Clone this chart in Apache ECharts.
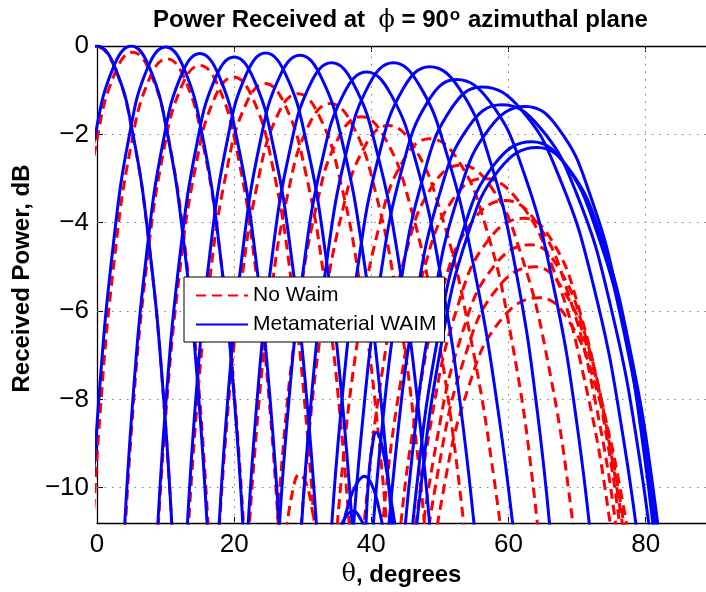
<!DOCTYPE html>
<html>
<head>
<meta charset="utf-8">
<script src="https://cdn.jsdelivr.net/npm/echarts/dist/echarts.min.js"></script>
<style>
  html, body { margin: 0; padding: 0; background: #fff; }
  #chart { width: 706px; height: 592px; }
</style>
</head>
<body>
<div id="chart"></div>
<script>
// Axis ticks
const thetaTicks = [0, 20, 40, 60, 80];
const levelTicks = [0, -2, -4, -6, -8, -10];

// Metamaterial WAIM beams: [theta (deg), received power (dB)]
const waimBeam00 = [[-2.66,-0.5],[0,0],[2.66,-0.5],[5.24,-2],[7.61,-4.5],[9.73,-8],[11.3,-12]];
const waimBeam01 = [[-2.6,-4.5],[-0.23,-2],[2.34,-0.5],[5,0],[7.68,-0.5],[10.28,-2],[12.69,-4.5],[14.85,-8],[16.45,-12]];
const waimBeam02 = [[-1.28,-12.02],[0.26,-8.02],[2.36,-4.52],[4.72,-2.02],[7.31,-0.52],[10,-0.02],[12.71,-0.52],[15.36,-2.02],[17.82,-4.52],[20.04,-8.02],[21.69,-12.02]];
const waimBeam03 = [[3.6,-12.17],[5.15,-8.17],[7.26,-4.67],[9.64,-2.17],[12.26,-0.67],[15,-0.17],[17.77,-0.67],[20.49,-2.17],[23.04,-4.67],[25.33,-8.17],[27.05,-12.17]];
const waimBeam04 = [[8.39,-12.25],[9.96,-8.25],[12.09,-4.75],[14.52,-2.25],[17.19,-0.75],[20,-0.25],[22.85,-0.75],[25.68,-2.25],[28.33,-4.75],[30.73,-8.25],[32.55,-12.25]];
const waimBeam05 = [[12.73,-12.16],[14.32,-8.16],[16.49,-4.66],[18.97,-2.16],[21.71,-0.66],[24.6,-0.16],[27.56,-0.66],[30.5,-2.16],[33.28,-4.66],[35.83,-8.16],[37.76,-12.16]];
const waimBeam06 = [[17.33,-12.21],[18.96,-8.21],[21.19,-4.71],[23.74,-2.21],[26.58,-0.71],[29.6,-0.21],[32.7,-0.71],[35.82,-2.21],[38.79,-4.71],[41.52,-8.21],[43.63,-12.21]];
const waimBeam07 = [[21.48,-12.38],[23.15,-8.38],[25.44,-4.88],[28.09,-2.38],[31.05,-0.88],[34.2,-0.38],[37.48,-0.88],[40.8,-2.38],[44,-4.88],[46.98,-8.38],[49.29,-12.38]];
const waimBeam08 = [[25.94,-12.59],[27.67,-8.59],[30.06,-5.09],[32.83,-2.59],[35.95,-1.09],[39.3,-0.59],[42.83,-1.09],[46.45,-2.59],[49.99,-5.09],[53.36,-8.59],[56.04,-12.59]];
const waimBeam09 = [[29.24,-12.38],[31.03,-8.38],[33.5,-4.88],[36.39,-2.38],[39.65,-0.88],[43.2,-0.38],[46.97,-0.88],[50.88,-2.38],[54.79,-4.88],[58.6,-8.38],[61.7,-12.38]];
const waimBeam10 = [[33.57,-12.47],[35.45,-8.47],[38.06,-4.97],[41.12,-2.47],[44.64,-0.97],[48.5,-0.47],[52.86,-0.97],[57.07,-2.47],[60.94,-4.97],[64.36,-8.47],[66.9,-12.47]];
const waimBeam11 = [[36.61,-12.76],[38.56,-8.76],[41.29,-5.26],[44.51,-2.76],[48.24,-1.26],[52.4,-0.76],[57.28,-1.26],[62,-2.76],[66.33,-5.26],[70.16,-8.76],[73,-12.76]];
const waimBeam12 = [[39.35,-12.93],[41.38,-8.93],[44.23,-5.43],[47.62,-2.93],[51.6,-1.43],[56.1,-0.93],[61.8,-1.43],[67.3,-2.93],[72.4,-5.43],[76.8,-8.93],[80.2,-12.93]];
const waimBeam13 = [[41.39,-13.33],[43.48,-9.33],[46.45,-5.83],[49.99,-3.33],[54.18,-1.83],[59,-1.33],[64.5,-1.83],[69.9,-3.33],[74.8,-5.83],[79.1,-9.33],[82.3,-13.33]];
const waimBeam14 = [[43.71,-13.37],[45.89,-9.37],[48.98,-5.87],[52.72,-3.37],[57.2,-1.87],[62.5,-1.37],[67.3,-1.87],[71.9,-3.37],[76.2,-5.87],[79.9,-9.37],[82.7,-13.37]];
const waimBeam15 = [[44.28,-14.17],[46.48,-10.17],[49.61,-6.67],[53.4,-4.17],[57.99,-2.67],[63.4,-2.17],[68.2,-2.67],[72.8,-4.17],[77.1,-6.67],[80.85,-10.17],[83.65,-14.17]];
const waimBeam16 = [[44.77,-14.3],[47,-10.3],[50.16,-6.8],[54,-4.3],[58.64,-2.8],[64.2,-2.3],[68.9,-2.8],[73.46,-4.3],[77.63,-6.8],[81.33,-10.3],[84.07,-14.3]];
// WAIM side lobes near 40 degrees
const waimLobeA = [[39.2,-10.9],[39.7,-9.6],[40.2,-9.0],[40.7,-8.75],[41.4,-8.95],[42.2,-9.6],[43.0,-10.4],[43.8,-11.2]];
const waimLobeB = [[35.8,-10.9],[36.8,-10.3],[37.9,-9.9],[39,-9.74],[40.1,-9.95],[41,-10.4],[41.8,-11]];
const waimLobeC = [[35.3,-11],[36.3,-10.65],[37.4,-10.53],[38.4,-10.7],[39.3,-11]];

// Beams without WAIM
const noWaim00 = [[-2.66,-0.52],[0,-0.02],[2.66,-0.52],[5.24,-2.02],[7.61,-4.52],[9.73,-8.02],[11.3,-12.02]];
const noWaim01 = [[-2.4,-4.64],[-0.03,-2.14],[2.54,-0.64],[5.2,-0.14],[7.88,-0.64],[10.48,-2.14],[12.89,-4.64],[15.05,-8.14],[16.65,-12.14]];
const noWaim02 = [[-1.08,-12.29],[0.46,-8.29],[2.56,-4.79],[4.92,-2.29],[7.51,-0.79],[10.2,-0.29],[12.91,-0.79],[15.56,-2.29],[18.02,-4.79],[20.24,-8.29],[21.89,-12.29]];
const noWaim03 = [[3.6,-12.44],[5.15,-8.44],[7.26,-4.94],[9.64,-2.44],[12.26,-0.94],[15,-0.44],[17.77,-0.94],[20.49,-2.44],[23.04,-4.94],[25.33,-8.44],[27.05,-12.44]];
const noWaim04 = [[8.29,-12.7],[9.86,-8.7],[11.99,-5.2],[14.42,-2.7],[17.09,-1.2],[19.9,-0.7],[22.75,-1.2],[25.58,-2.7],[28.23,-5.2],[30.63,-8.7],[32.45,-12.7]];
const noWaim05 = [[12.63,-12.85],[14.22,-8.85],[16.39,-5.35],[18.87,-2.85],[21.61,-1.35],[24.5,-0.85],[27.46,-1.35],[30.4,-2.85],[33.18,-5.35],[35.73,-8.85],[37.66,-12.85]];
const noWaim06 = [[17.03,-13.08],[18.66,-9.08],[20.89,-5.58],[23.44,-3.08],[26.28,-1.58],[29.3,-1.08],[32.4,-1.58],[35.52,-3.08],[38.49,-5.58],[41.22,-9.08],[43.33,-13.08]];
const noWaim07 = [[21.28,-13.3],[22.95,-9.3],[25.24,-5.8],[27.89,-3.3],[30.85,-1.8],[34,-1.3],[37.28,-1.8],[40.6,-3.3],[43.8,-5.8],[46.78,-9.3],[49.09,-13.3]];
const noWaim08 = [[25.14,-13.6],[26.87,-9.6],[29.26,-6.1],[32.03,-3.6],[35.15,-2.1],[38.5,-1.6],[42.03,-2.1],[45.65,-3.6],[49.19,-6.1],[52.56,-9.6],[55.24,-13.6]];
const noWaim09 = [[28.54,-13.8],[30.33,-9.8],[32.8,-6.3],[35.69,-3.8],[38.95,-2.3],[42.5,-1.8],[46.27,-2.3],[50.18,-3.8],[54.09,-6.3],[57.9,-9.8],[61,-13.8]];
const noWaim10 = [[33.57,-14.1],[35.45,-10.1],[38.06,-6.6],[41.12,-4.1],[44.64,-2.6],[48.5,-2.1],[52.7,-2.6],[56.7,-4.1],[60.4,-6.6],[63.7,-10.1],[66.1,-14.1]];
const noWaim11 = [[37.06,-14.7],[39.02,-10.7],[41.77,-7.2],[45.02,-4.7],[48.78,-3.2],[53,-2.7],[57.5,-3.2],[61.8,-4.7],[65.8,-7.2],[69.3,-10.7],[72,-14.7]];
const noWaim12 = [[39.49,-15],[41.53,-11],[44.38,-7.5],[47.79,-5],[51.78,-3.5],[56.3,-3],[61.4,-3.5],[66.4,-5],[71,-7.5],[75,-11],[78,-15]];
const noWaim13 = [[41.73,-15.5],[43.84,-11.5],[46.81,-8],[50.38,-5.5],[54.61,-4],[59.5,-3.5],[64.1,-4],[68.5,-5.5],[72.6,-8],[76.2,-11.5],[78.9,-15.5]];
const noWaim14 = [[43.58,-15.9],[45.76,-11.9],[48.84,-8.4],[52.57,-5.9],[57.03,-4.4],[62.3,-3.9],[66.3,-4.4],[70.2,-5.9],[73.8,-8.4],[77,-11.9],[79.3,-15.9]];
const noWaim15 = [[44.15,-16.5],[46.35,-12.5],[49.47,-9],[53.26,-6.5],[57.8,-5],[63.2,-4.5],[67.2,-5],[71.1,-6.5],[74.7,-9],[77.9,-12.5],[80.2,-16.5]];
const noWaim16 = [[44.53,-17],[46.74,-13],[49.88,-9.5],[53.71,-7],[58.3,-5.5],[63.8,-5],[67.9,-5.5],[71.8,-7],[75.4,-9.5],[78.6,-13],[81,-17]];
const noWaim17 = [[44.96,-17.7],[47.19,-13.7],[50.36,-10.2],[54.22,-7.7],[58.9,-6.2],[64.5,-5.7],[68.7,-6.2],[72.7,-7.7],[76.5,-10.2],[79.8,-13.7],[82.2,-17.7]];
const noWaimLobe = [[27.6,-11],[28.5,-10.1],[29.5,-9.7],[30.5,-9.9],[31.5,-10.6],[32.2,-11.2]];

const waimCurves = [waimBeam00, waimBeam01, waimBeam02, waimBeam03, waimBeam04, waimBeam05, waimBeam06,
  waimBeam07, waimBeam08, waimBeam09, waimBeam10, waimBeam11, waimBeam12, waimBeam13, waimBeam14,
  waimBeam15, waimBeam16, waimLobeA, waimLobeB, waimLobeC];
const noWaimCurves = [noWaim00, noWaim01, noWaim02, noWaim03, noWaim04, noWaim05, noWaim06, noWaim07,
  noWaim08, noWaim09, noWaim10, noWaim11, noWaim12, noWaim13, noWaim14, noWaim15, noWaim16, noWaim17, noWaimLobe];

const NAME_NO = 'No Waim';
const NAME_META = 'Metamaterial WAIM';
const RED = '#ff0000';
const BLUE = '#0000ff';
const FONT = '"Liberation Sans", Arial, Helvetica, sans-serif';
const SYMBOL_FONT = '"DejaVu Serif", serif';
const minus = v => (v < 0 ? '\u2212' + Math.abs(v) : String(v));

function curve(name, data, color, dashed) {
  return {
    type: 'line', name, data,
    symbol: 'none', showSymbol: false, smooth: 0.45,
    clip: true, silent: true, animation: false,
    lineStyle: { color, width: 3, type: dashed ? [10, 6] : 'solid', cap: 'butt', join: 'round' },
    itemStyle: { color },
    z: dashed ? 3 : 4
  };
}

// dotted grid lines at the major ticks
const gridLines = {
  type: 'line', name: 'grid', data: [], silent: true, animation: false,
  symbol: 'none', z: 1,
  markLine: {
    silent: true, symbol: 'none', animation: false, z: 1,
    label: { show: false },
    lineStyle: { type: [1.5, 6], color: '#808080', width: 1 },
    data: levelTicks.filter(v => v !== 0).map(v => ({ yAxis: v }))
      .concat(thetaTicks.filter(v => v !== 0).map(v => ({ xAxis: v })))
  }
};

const series = [gridLines]
  .concat(noWaimCurves.map(d => curve(NAME_NO, d, RED, true)))
  .concat(waimCurves.map(d => curve(NAME_META, d, BLUE, false)));

const chart = echarts.init(document.getElementById('chart'), null, { renderer: 'canvas' });
chart.setOption({
  animation: false,
  backgroundColor: '#ffffff',
  title: {
    text: 'Power Received at  {phi|\u03d5} = 90{sup|o} azimuthal plane',
    left: 148, top: 2,
    textStyle: {
      fontFamily: FONT, fontSize: 24, fontWeight: 'bold', color: '#000',
      rich: {
        phi: { fontFamily: SYMBOL_FONT, fontSize: 24, fontWeight: 'normal', color: '#000' },
        sup: { fontFamily: FONT, fontSize: 17, fontWeight: 'bold', color: '#000', verticalAlign: 'top', padding: [0, 1, 10, 1] }
      }
    }
  },
  legend: {
    data: [NAME_NO, NAME_META],
    orient: 'vertical',
    left: 184, top: 277,
    padding: [8, 8, 7, 11],
    itemGap: 8,
    itemWidth: 52, itemHeight: 14,
    backgroundColor: '#ffffff',
    borderColor: '#000000', borderWidth: 1, borderRadius: 0,
    selectedMode: false,
    itemStyle: { opacity: 0, borderWidth: 0 },
    textStyle: { fontFamily: FONT, fontSize: 21, color: '#000' },
    z: 20
  },
  grid: { left: 97, top: 46, right: 0, bottom: 69, containLabel: false },
  xAxis: [{
    type: 'value', min: 0, max: 88.8, interval: 20,
    position: 'bottom',
    name: '{t|\u03b8}, degrees',
    nameLocation: 'middle', nameGap: 38,
    nameTextStyle: {
      fontFamily: FONT, fontSize: 24, fontWeight: 'bold', color: '#000',
      rich: { t: { fontFamily: SYMBOL_FONT, fontSize: 24, fontWeight: 'normal', color: '#000' } }
    },
    axisLine: { show: true, onZero: false, lineStyle: { color: '#000', width: 1.3 } },
    axisTick: { show: true, inside: true, length: 6, lineStyle: { color: '#000' } },
    axisLabel: { show: true, fontFamily: FONT, fontSize: 26, color: '#000', margin: 9, showMaxLabel: false, showMinLabel: true },
    splitLine: { show: false }
  }, {
    type: 'value', min: 0, max: 88.8, interval: 20,
    position: 'top',
    axisLine: { show: true, onZero: false, lineStyle: { color: '#000', width: 1.3 } },
    axisTick: { show: true, inside: true, length: 6, lineStyle: { color: '#000' } },
    axisLabel: { show: false },
    splitLine: { show: false }
  }],
  yAxis: [{
    type: 'value', min: -10.8, max: 0,
    name: 'Received Power, dB',
    nameLocation: 'middle', nameGap: 62, nameRotate: 90,
    nameTextStyle: { fontFamily: FONT, fontSize: 24, fontWeight: 'bold', color: '#000', padding: [0, 0, 0, 12] },
    axisLine: { show: true, onZero: false, lineStyle: { color: '#000', width: 1.3 } },
    axisTick: { show: true, inside: true, length: 6, customValues: levelTicks, lineStyle: { color: '#000' } },
    axisLabel: { show: true, customValues: levelTicks, fontFamily: FONT, fontSize: 26, color: '#000', margin: 8, formatter: minus },
    splitLine: { show: false }
  }],
  series
});
</script>
</body>
</html>
